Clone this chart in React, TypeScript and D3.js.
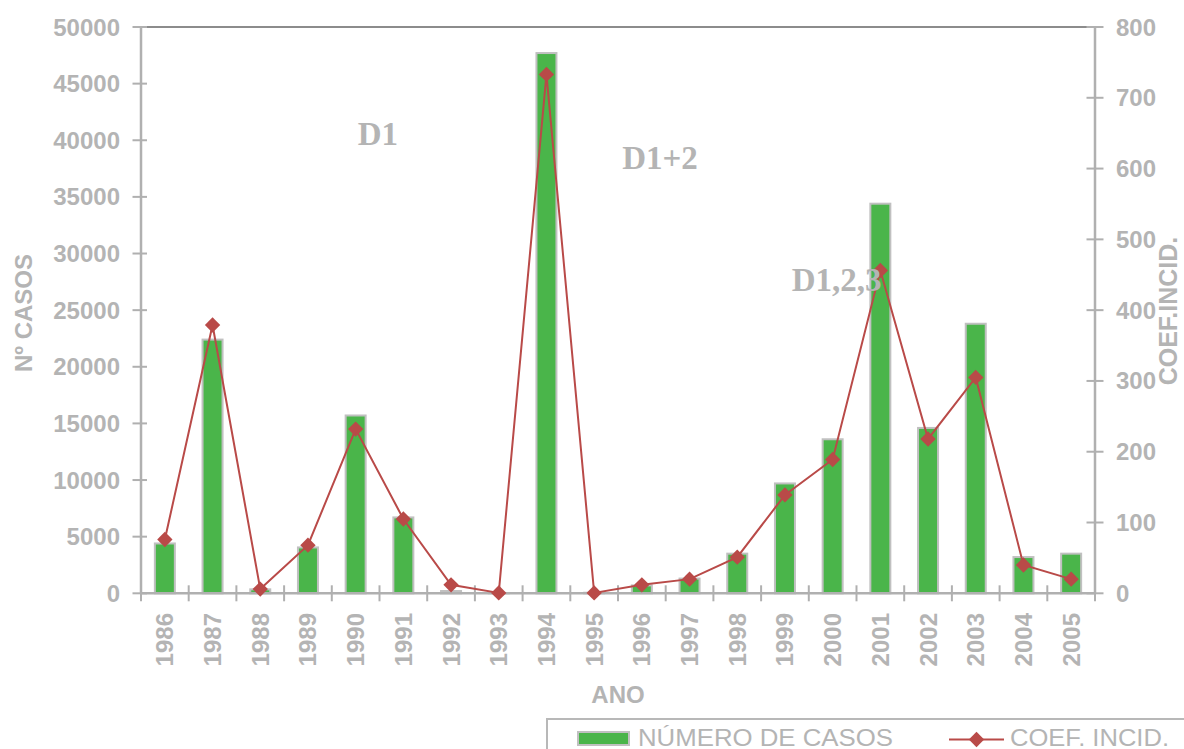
import React from "react";
import * as d3 from "d3";

const years = ["1986","1987","1988","1989","1990","1991","1992","1993","1994","1995","1996","1997","1998","1999","2000","2001","2002","2003","2004","2005"];
const casos = [4400, 22400, 350, 4050, 15700, 6700, 200, 30, 47700, 50, 700, 1300, 3500, 9700, 13600, 34400, 14600, 23800, 3200, 3500];
const coef = [76, 379, 6, 68, 232, 105, 12, 0.5, 733, 0.5, 12, 20, 51, 139, 189, 456, 218, 305, 40, 20];
const leftTicks = [0, 5000, 10000, 15000, 20000, 25000, 30000, 35000, 40000, 45000, 50000];
const rightTicks = [0, 100, 200, 300, 400, 500, 600, 700, 800];
const annotations = [
  { text: "D1", year: "1990", value: 39600, dx: 2 },
  { text: "D1+2", year: "1995", value: 37500, dx: 28 },
  { text: "D1,2,3", year: "2000", value: 26700, dx: -41 },
];

const W = 1184, H = 749;
const L = 141, R = 1095, T = 27, B = 593.3;
const GRAY = "#b4b4b4";
const AXIS = "#b0b0b0";
const GREEN = "#4ab54a";
const RED = "#b94a48";
const SANS = "'Liberation Sans', Arial, sans-serif";
const SERIF = "'Liberation Serif', 'Times New Roman', serif";

export default function App() {
  const x = d3.scaleBand().domain(years).range([L, R]).paddingInner(0).paddingOuter(0);
  const bw = x.bandwidth();
  const barW = 20;
  const yL = d3.scaleLinear().domain([0, 50000]).range([B, T]);
  const yR = d3.scaleLinear().domain([0, 800]).range([B, T]);
  const cx = (y: string) => (x(y) as number) + bw / 2;
  const line = d3.line<number>().x((_, i) => cx(years[i])).y((d) => yR(d));
  const diamond = d3.symbol().type(d3.symbolDiamond2).size(150)();
  const boundaries = d3.range(years.length + 1).map((i) => L + i * bw);

  return (
    <svg width={W} height={H} style={{ position: "absolute", left: 0, top: 0, background: "#fff" }}>
      {/* top border */}
      <line x1={L} x2={R} y1={T} y2={T} stroke="#8c8c8c" strokeWidth={2} />
      {/* bars */}
      {casos.map((v, i) => (
        <rect key={i} x={cx(years[i]) - barW / 2} y={yL(v)} width={barW} height={B - yL(v)}
          fill={GREEN} stroke="#c0c0c0" strokeWidth={2} />
      ))}
      {/* left axis */}
      <line x1={L} x2={L} y1={T} y2={B} stroke={AXIS} strokeWidth={2.5} />
      {leftTicks.map((t) => (
        <g key={t}>
          <line x1={L - 8.5} x2={L + 6} y1={yL(t)} y2={yL(t)} stroke={AXIS} strokeWidth={2} />
          <text x={120} y={yL(t) + 8.5} textAnchor="end" fontFamily={SANS} fontWeight="bold" fontSize={24} fill={GRAY}>{t}</text>
        </g>
      ))}
      {/* right axis */}
      <line x1={R} x2={R} y1={T} y2={B} stroke={AXIS} strokeWidth={2.5} />
      {rightTicks.map((t) => (
        <g key={t}>
          <line x1={R - 8.5} x2={R + 8.5} y1={yR(t)} y2={yR(t)} stroke={AXIS} strokeWidth={2} />
          <text x={1116} y={yR(t) + 8.5} textAnchor="start" fontFamily={SANS} fontWeight="bold" fontSize={24} fill={GRAY}>{t}</text>
        </g>
      ))}
      {/* x axis */}
      <line x1={L} x2={R} y1={B} y2={B} stroke={AXIS} strokeWidth={2.5} />
      {boundaries.map((b, i) => (
        <line key={i} x1={b} x2={b} y1={B - 8} y2={B + 8} stroke={AXIS} strokeWidth={2} />
      ))}
      {years.map((y) => (
        <text key={y} transform={`translate(${cx(y) + 8.5},613) rotate(-90)`} textAnchor="end"
          fontFamily={SANS} fontWeight="bold" fontSize={24} fill={GRAY}>{y}</text>
      ))}
      {/* line series */}
      <path d={line(coef) || ""} fill="none" stroke={RED} strokeWidth={2} />
      {coef.map((v, i) => (
        <path key={i} d={diamond || ""} transform={`translate(${cx(years[i])},${yR(v)})`} fill={RED} />
      ))}
      {/* annotations */}
      {annotations.map((a) => (
        <text key={a.text} x={cx(a.year)} y={yL(a.value)} textAnchor="start" dx={a.dx}
          fontFamily={SERIF} fontWeight="bold" fontSize={33} fill={GRAY}>{a.text}</text>
      ))}
      {/* axis titles */}
      <text transform="translate(32,313) rotate(-90)" textAnchor="middle" fontFamily={SANS} fontWeight="bold" fontSize={24} fill={GRAY}>Nº CASOS</text>
      <text transform="translate(1177,311) rotate(-90)" textAnchor="middle" fontFamily={SANS} fontWeight="bold" fontSize={25} fill={GRAY}>COEF.INCID.</text>
      <text x={618} y={703} textAnchor="middle" fontFamily={SANS} fontWeight="bold" fontSize={24} fill={GRAY}>ANO</text>
      {/* legend */}
      <rect x={547} y={719} width={700} height={60} fill="none" stroke="#b8b8b8" strokeWidth={2} />
      <rect x={578} y={732} width={51} height={13} fill={GREEN} stroke="#c0c0c0" strokeWidth={2} />
      <text x={638} y={745.5} fontFamily={SANS} fontSize={24} fill={GRAY} textLength={255} lengthAdjust="spacingAndGlyphs">NÚMERO DE CASOS</text>
      <line x1={949} x2={1004} y1={739.5} y2={739.5} stroke={RED} strokeWidth={2} />
      <path d={diamond || ""} transform="translate(976.5,739.5)" fill={RED} />
      <text x={1010} y={745.5} fontFamily={SANS} fontSize={24} fill={GRAY} textLength={159} lengthAdjust="spacingAndGlyphs">COEF. INCID.</text>
    </svg>
  );
}
